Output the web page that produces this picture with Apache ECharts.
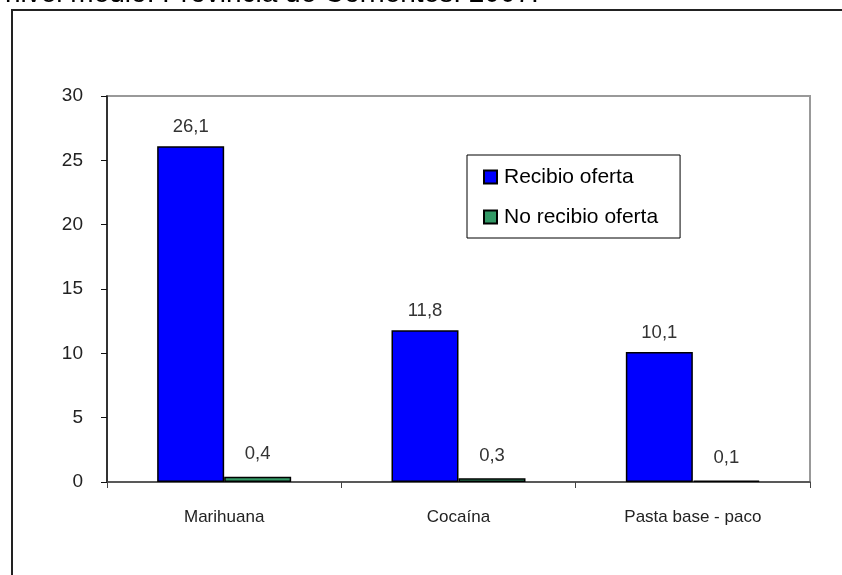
<!DOCTYPE html>
<html>
<head>
<meta charset="utf-8">
<script src="https://cdn.jsdelivr.net/npm/echarts@6/dist/echarts.min.js"></script>
<style>
html,body{margin:0;padding:0;background:#fff;}
#chart{width:842px;height:575px;}
</style>
</head>
<body>
<div id="chart"></div>
<script>
var titleText = 'nivel medio. Provincia de Corrientes. 2007.';
var categories = ['Marihuana', 'Cocaína', 'Pasta base - paco'];
var seriesNames = ['Recibio oferta', 'No recibio oferta'];
var recibio = [26.1, 11.8, 10.1];
var noRecibio = [0.4, 0.3, 0.1];
var yTicks = [0, 5, 10, 15, 20, 25, 30];

var font = 'Arial, "Liberation Sans", sans-serif';
function fmt(p) { return String(p.value).replace('.', ','); }

var chart = echarts.init(document.getElementById('chart'));
chart.setOption({
  animation: false,
  backgroundColor: '#fff',
  graphic: [
    { type: 'rect', shape: { x: 12, y: 10, width: 850, height: 590 },
      style: { fill: 'none', stroke: '#222', lineWidth: 2 }, z: 100 },
    { type: 'text', x: 5, y: -6,
      style: { text: titleText, font: '28px ' + font, fill: '#000', verticalAlign: 'middle', align: 'left' } }
  ],
  grid: { left: 107, right: 32, top: 96, bottom: 93, show: true, borderColor: '#999', borderWidth: 2 },
  legend: {
    orient: 'vertical', left: 467, top: 155,
    data: seriesNames,
    icon: 'rect', itemWidth: 13, itemHeight: 13, itemGap: 18,
    padding: [11, 22, 10, 16],
    borderColor: '#000', borderWidth: 1,
    textStyle: { fontFamily: font, fontSize: 21, color: '#000', lineHeight: 22, padding: [0, 0, 0, 2] }
  },
  xAxis: {
    type: 'category', data: categories,
    axisLine: { lineStyle: { color: '#444', width: 1.5 } },
    axisTick: { show: true, length: 6, lineStyle: { color: '#444' } },
    axisLabel: { fontFamily: font, fontSize: 17, color: '#222', margin: 27 },
    splitLine: { show: false }
  },
  yAxis: {
    type: 'value', min: yTicks[0], max: yTicks[yTicks.length - 1], interval: 5,
    axisLine: { show: true, lineStyle: { color: '#111', width: 1.5 } },
    axisTick: { show: true, length: 6, lineStyle: { color: '#111' } },
    axisLabel: { fontFamily: font, fontSize: 19, color: '#222', margin: 24 },
    splitLine: { show: false }
  },
  series: [
    { name: seriesNames[0], type: 'bar', data: recibio, barWidth: 67, barGap: '0%',
      itemStyle: { color: '#0000FF', borderColor: '#000', borderWidth: 1.5 },
      label: { show: true, position: 'top', distance: 10, formatter: fmt, fontFamily: font, fontSize: 18.5, color: '#333' } },
    { name: seriesNames[1], type: 'bar', data: noRecibio, barWidth: 67, barGap: '0%',
      itemStyle: { color: '#339966', borderColor: '#000', borderWidth: 1.5 },
      label: { show: true, position: 'top', distance: 13, formatter: fmt, fontFamily: font, fontSize: 18.5, color: '#333' } }
  ]
});
</script>
</body>
</html>
